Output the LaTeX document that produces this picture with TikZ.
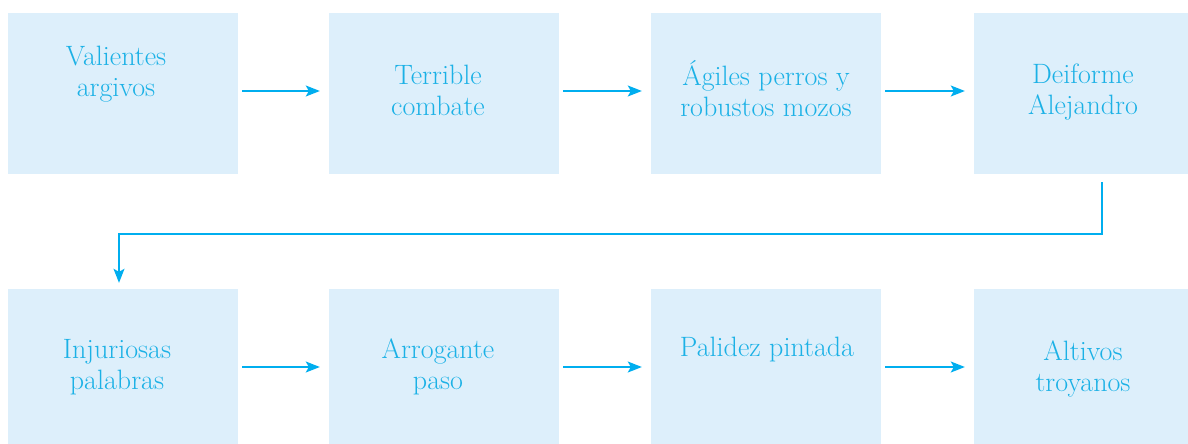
\documentclass[tikz,border=0pt]{standalone}
\usetikzlibrary{arrows.meta}

\definecolor{boxfill}{HTML}{DDEFFB}
\definecolor{inkblue}{HTML}{1BB1E6}
\definecolor{lineblue}{HTML}{00AEEF}

\begin{document}
\begin{tikzpicture}[x=1pt, y=-1pt]
    \tikzstyle{word box}=[rectangle, fill=boxfill, minimum width=230pt, minimum height=160pt, inner sep=0pt];
    \tikzstyle{word text}=[text=inkblue, align=center, font=\fontsize{28}{31}\selectfont, inner sep=0pt];
    \tikzstyle{arr}=[draw=lineblue, line width=1.6pt, -{Stealth[length=14pt, width=11pt, inset=3pt]}];

    \useasboundingbox (0,0) rectangle (1188,444);

    % upper row
    \node[word box] (b1) at (123,93.5) {};
    \node[word box] (b2) at (444,93.5) {};
    \node[word box] (b3) at (766,93.5) {};
    \node[word box] (b4) at (1089,93.5) {};

    % lower row
    \node[word box] (b5) at (123,369) {};
    \node[word box] (b6) at (444,369) {};
    \node[word box] (b7) at (766,369) {};
    \node[word box] (b8) at (1089,369) {};

    \node[word text] (t1) at (116,74) {Valientes\\argivos};
    \node[word text] (t2) at (438,90) {Terrible\\combate};
    \node[word text] (t3) at (766,89) {Ágiles perros y\\robustos mozos};
    \node[word text] (t4) at (1083,92) {Deiforme\\Alejandro};

    \node[word text] (t5) at (117,367) {Injuriosas\\palabras};
    \node[word text] (t6) at (438,367) {Arrogante\\paso};
    \node[word text] (t7) at (767,350) {Palidez pintada};
    \node[word text] (t8) at (1083,369) {Altivos\\troyanos};

    \draw[arr] ([xshift=4pt, yshift=2.5pt]b1.east) -- ([xshift=-9pt, yshift=2.5pt]b2.west);
    \draw[arr] ([xshift=4pt, yshift=2.5pt]b2.east) -- ([xshift=-9pt, yshift=2.5pt]b3.west);
    \draw[arr] ([xshift=4pt, yshift=2.5pt]b3.east) -- ([xshift=-9pt, yshift=2.5pt]b4.west);

    \draw[arr] ([xshift=13pt, yshift=-8.5pt]b4.south) -- ++(0,52) -| ([xshift=-4pt, yshift=6pt]b5.north);

    \draw[arr] ([xshift=4pt, yshift=2pt]b5.east) -- ([xshift=-9pt, yshift=2pt]b6.west);
    \draw[arr] ([xshift=4pt, yshift=2pt]b6.east) -- ([xshift=-9pt, yshift=2pt]b7.west);
    \draw[arr] ([xshift=4pt, yshift=2pt]b7.east) -- ([xshift=-9pt, yshift=2pt]b8.west);

\end{tikzpicture}
\end{document}
